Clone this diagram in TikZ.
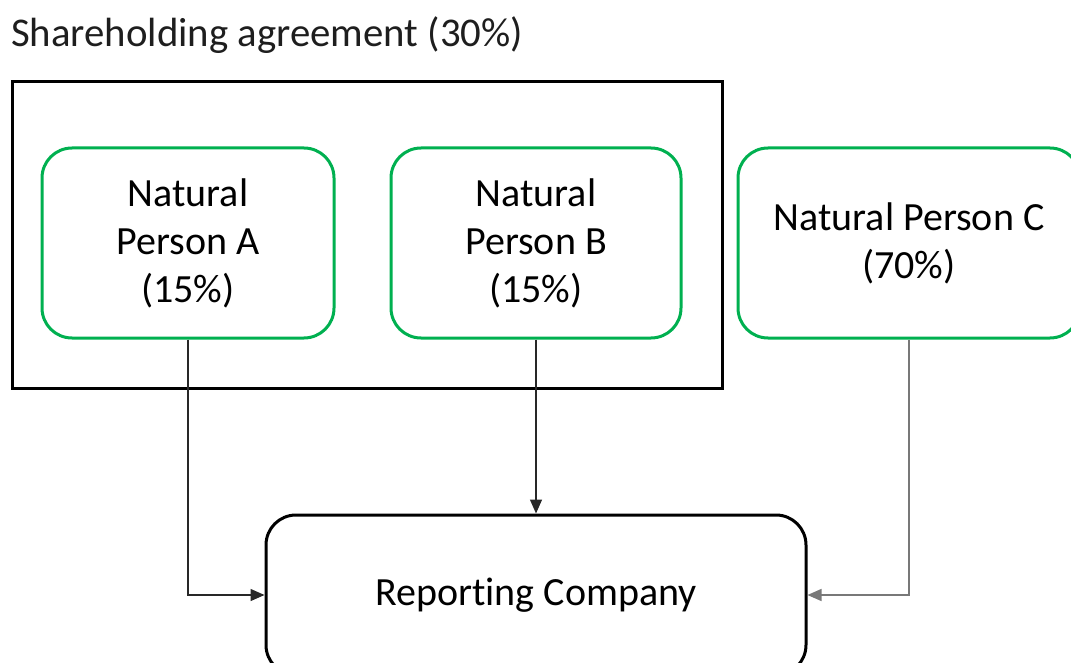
\documentclass[tikz,border=0pt]{standalone}
\usepackage{fontspec}
\setmainfont{Carlito}[Ligatures=NoCommon]
\usetikzlibrary{arrows.meta}
\definecolor{boxgreen}{RGB}{0,176,80}
\definecolor{connA}{RGB}{40,40,40}
\definecolor{connC}{RGB}{120,120,120}
\definecolor{titletext}{RGB}{30,30,30}
\tikzset{
  txt/.style={font=\fontsize{40}{48}\selectfont, align=center, text=black},
  personbox/.style={txt, draw=boxgreen, line width=3pt, rounded corners=30pt, minimum height=190pt, inner sep=0pt},
  companybox/.style={txt, draw=black, line width=3pt, rounded corners=30pt, inner sep=0pt},
  groupbox/.style={draw=black, line width=3pt, inner sep=0pt},
  conn/.style={line width=1.4pt, -{Triangle[length=14pt,width=12pt]}},
}
\begin{document}
\begin{tikzpicture}[x=1pt,y=-1pt]
\useasboundingbox (0,0) rectangle (1071,663);
\node[txt, font=\fontsize{40.8}{48}\selectfont, text=titletext, anchor=base west, inner sep=0pt] (title) at (11,47) {Shareholding agreement (30\%)};
\node[groupbox, minimum width=710pt, minimum height=306pt] (grp) at (367,235) {};
\node[personbox, minimum width=292pt] (A) at (188,243) {Natural\\Person A\\(15\%)};
\node[personbox, minimum width=290pt] (B) at (536,243) {Natural\\Person B\\(15\%)};
\node[personbox, minimum width=342pt] (C) at (909,243) {Natural Person C\\(70\%)};
\node[companybox, minimum width=540pt, minimum height=160pt] (R) at (536,595) {Reporting Company};
\draw[conn, draw=connA] (A.south) |- (R.west);
\draw[conn, draw=connA] (B.south) -- (R.north);
\draw[conn, draw=connC] (C.south) |- (R.east);
\end{tikzpicture}
\end{document}
